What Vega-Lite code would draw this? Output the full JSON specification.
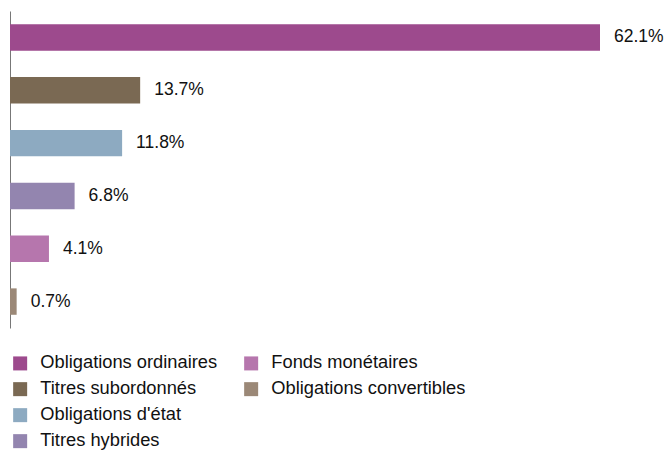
{
  "$schema": "https://vega.github.io/schema/vega-lite/v6.json",
  "width": 590,
  "height": 317,
  "autosize": "none",
  "padding": {"left": 10, "top": 11, "right": 68, "bottom": 122},
  "background": "white",
  "config": {
    "view": {"stroke": null},
    "font": "Liberation Sans"
  },
  "data": {
    "values": [
      {"category": "Obligations ordinaires", "value": 0.621},
      {"category": "Titres subordonnés", "value": 0.137},
      {"category": "Obligations d'état", "value": 0.118},
      {"category": "Titres hybrides", "value": 0.068},
      {"category": "Fonds monétaires", "value": 0.041},
      {"category": "Obligations convertibles", "value": 0.007}
    ]
  },
  "encoding": {
    "y": {
      "field": "category",
      "type": "nominal",
      "sort": "-x",
      "scale": {"paddingInner": 0.5, "paddingOuter": 0.25},
      "axis": {
        "title": null,
        "labels": false,
        "ticks": false,
        "grid": false,
        "domainColor": "#777777",
        "domainWidth": 1
      }
    },
    "x": {
      "field": "value",
      "type": "quantitative",
      "scale": {"domain": [0, 0.621], "nice": false, "zero": true},
      "axis": null
    }
  },
  "layer": [
    {
      "mark": {"type": "bar"},
      "encoding": {
        "color": {
          "field": "category",
          "type": "nominal",
          "scale": {
            "domain": ["Obligations ordinaires", "Titres subordonnés", "Obligations d'état", "Titres hybrides", "Fonds monétaires", "Obligations convertibles", "b1", "b2"],
            "range": ["#9D4A8D", "#7A6953", "#8DAAC1", "#9385AF", "#B676AD", "#9B8877", "transparent", "transparent"]
          },
          "legend": {
            "title": null,
            "orient": "none",
            "legendX": 1,
            "legendY": 343,
            "columns": 2,
            "columnPadding": 24,
            "rowPadding": 7,
            "symbolType": "square",
            "symbolSize": 196,
            "symbolStrokeWidth": 0,
            "labelFontSize": 18.3,
            "labelFont": "Liberation Sans",
            "labelColor": "#111111",
            "labelOffset": 11,
            "labelLimit": 400,
            "labelExpr": "datum.label == 'b1' || datum.label == 'b2' ? '' : datum.label"
          }
        }
      }
    },
    {
      "mark": {"type": "text", "align": "left", "baseline": "middle", "dx": 14, "fontSize": 17.5, "font": "Liberation Sans", "color": "#111111"},
      "encoding": {
        "text": {"field": "value", "type": "quantitative", "format": ".1%"}
      }
    }
  ]
}
